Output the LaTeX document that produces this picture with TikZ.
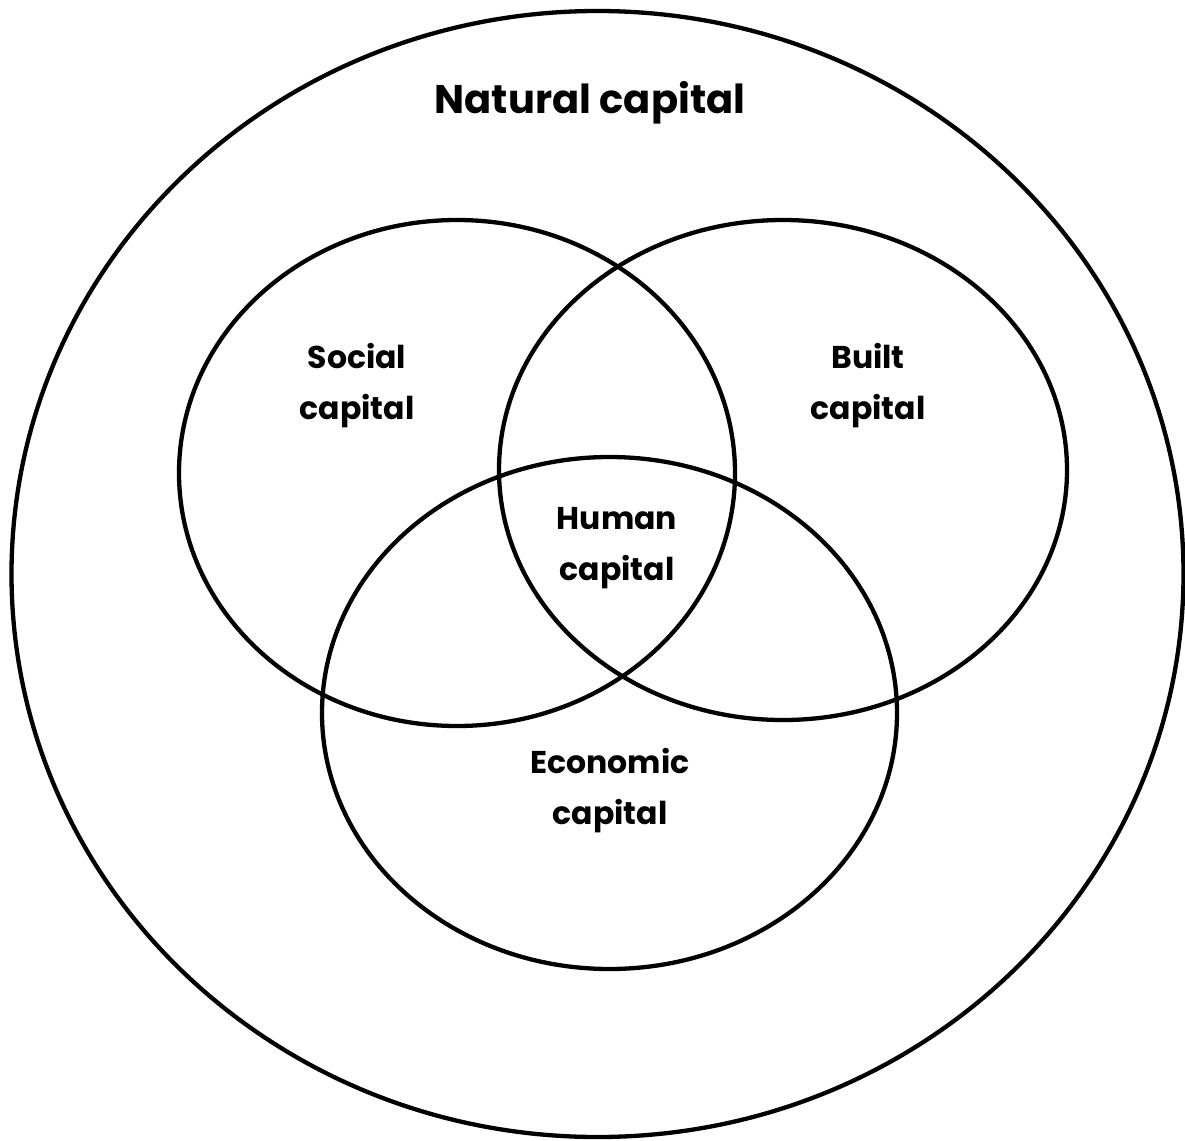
\documentclass[tikz,border=0pt]{standalone}
\usepackage{fontspec}
\setmainfont{Poppins}
\begin{document}
\begin{tikzpicture}[x=1pt,y=-1pt,
  ring/.style={draw=black,line width=4.3pt},
  lbl/.style={font=\fontsize{31.5}{51}\selectfont\bfseries,align=center,text=black},
  biglbl/.style={font=\fontsize{40}{48}\selectfont\bfseries,text=black}]
  \useasboundingbox[fill=white] (0,0) rectangle (1185,1140);
  % outer region and the three overlapping sets
  \draw[ring] (597.5,574) ellipse [x radius=586, y radius=563];
  \draw[ring] (457,473) ellipse [x radius=278, y radius=253];
  \draw[ring] (783,470) ellipse [x radius=284, y radius=250];
  \draw[ring] (609.5,713) ellipse [x radius=287.5, y radius=256];
  % labels
  \node[biglbl] (natural) at (590,103) {Natural capital};
  \node[lbl] (social) at (357,386) {Social\\capital};
  \node[lbl] (built) at (868,386) {Built\\capital};
  \node[lbl] (human) at (617,548) {Human\\capital};
  \node[lbl] (economic) at (610,791) {Economic\\capital};
\end{tikzpicture}
\end{document}
